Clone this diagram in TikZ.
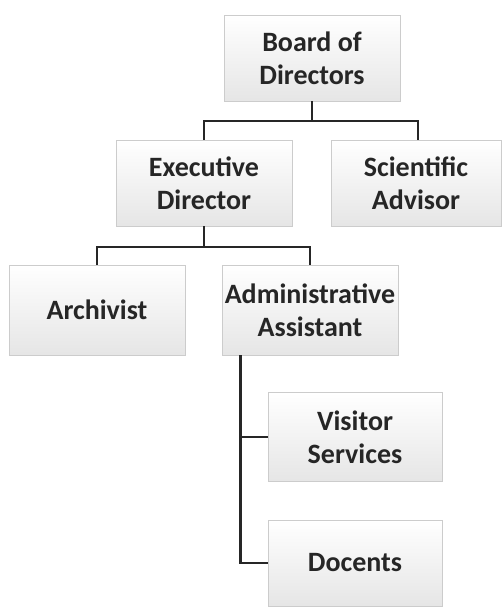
\documentclass[tikz,border=0pt]{standalone}
\usepackage{fontspec}
\setmainfont{Carlito}
\begin{document}
\begin{tikzpicture}[x=1pt,y=-1pt,
  box/.style={rectangle, draw=gray!40, line width=0.8pt, top color=white, bottom color=gray!20,
    align=center, inner sep=0pt, font=\bfseries\fontsize{28}{33}\selectfont, text=black!85},
  link/.style={draw=black!85, line width=2.6pt}]
\useasboundingbox (0,0) rectangle (501,607);
\node[box, minimum width=176pt, minimum height=86pt] (board) at (312,58) {Board of\\Directors};
\node[box, minimum width=176pt, minimum height=86pt] (exec) at (204,183) {Executive\\Director};
\node[box, minimum width=170pt, minimum height=86pt] (sci) at (416,183) {Scientific\\Advisor};
\node[box, minimum width=176pt, minimum height=90pt] (arch) at (97,310) {Archivist};
\node[box, minimum width=176pt, minimum height=90pt] (admin) at (310,310) {Administrative\\Assistant};
\node[box, minimum width=174pt, minimum height=89pt] (visit) at (355,437) {Visitor\\Services};
\node[box, minimum width=174pt, minimum height=86pt] (doc) at (355,563) {Docents};
\coordinate (bj) at (312,121);
\coordinate (ej) at (204,247);
\coordinate (aj) at ([xshift=19pt]admin.south west);
\draw[link] (board.south) -- (bj);
\draw[link] (bj) -| (exec.north);
\draw[link] (bj) -| ([xshift=2pt]sci.north);
\draw[link] (exec.south) -- (ej);
\draw[link] (ej) -| (arch.north);
\draw[link] (ej) -| (admin.north);
\draw[link] (aj) |- (visit.west);
\draw[link] (aj) |- (doc.west);
\end{tikzpicture}
\end{document}
